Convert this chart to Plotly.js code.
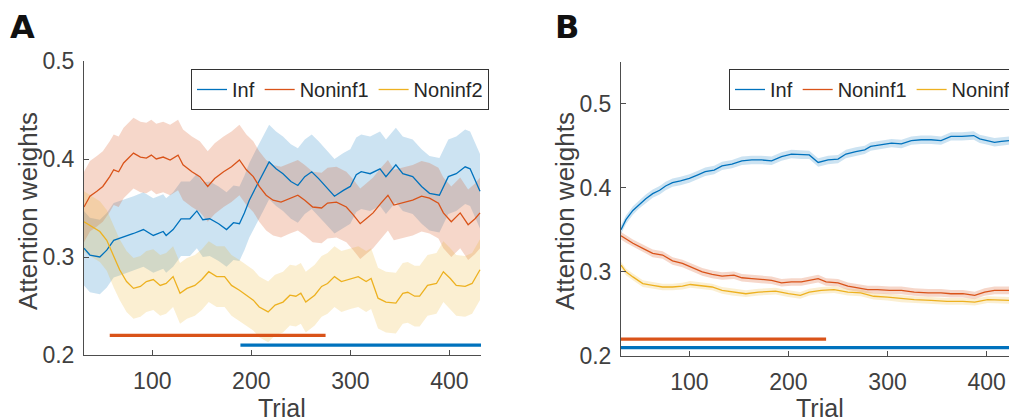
<!DOCTYPE html>
<html>
<head>
<meta charset="utf-8">
<script src="https://cdn.plot.ly/plotly-3.0.1.min.js"></script>
<style>html,body{margin:0;padding:0;background:#fff;}#chart{width:1009px;height:417px;}</style>
</head>
<body>
<div id="chart"></div>
<script>
// ---------- Panel A data (trial, attention weight) ----------
const aInfTrials = [31,37,47,54,61,67,81,91,101,111,114,121,129,138,145,151,158,167,175,182,188,193,198,205,212,218,225,232,240,247,254,261,268,274,284,293,300,306,311,320,330,336,346,353,363,372,380,390,399,407,416,421,426,431];
const aInfValues = [0.309,0.302,0.300,0.307,0.317,0.319,0.324,0.328,0.322,0.326,0.322,0.328,0.339,0.339,0.347,0.338,0.339,0.334,0.328,0.335,0.334,0.345,0.358,0.372,0.385,0.397,0.390,0.385,0.377,0.373,0.382,0.387,0.380,0.373,0.362,0.368,0.372,0.384,0.387,0.385,0.390,0.382,0.394,0.385,0.382,0.372,0.365,0.363,0.382,0.385,0.392,0.390,0.379,0.367];

const aN1Trials = [31,37,44,50,57,61,66,71,76,81,88,94,99,104,111,118,126,131,140,148,156,163,172,180,188,195,202,208,215,222,230,239,247,254,262,271,277,286,296,303,310,316,323,331,338,344,353,363,372,380,389,394,402,411,419,426,431];
const aN1Values = [0.351,0.362,0.367,0.372,0.382,0.389,0.387,0.396,0.401,0.406,0.402,0.401,0.404,0.400,0.402,0.399,0.404,0.394,0.387,0.382,0.372,0.380,0.387,0.392,0.399,0.389,0.382,0.372,0.363,0.358,0.356,0.360,0.363,0.358,0.351,0.350,0.355,0.356,0.351,0.343,0.334,0.339,0.345,0.355,0.363,0.353,0.355,0.358,0.362,0.360,0.355,0.345,0.336,0.345,0.333,0.339,0.345];

const aN2Trials = [31,39,47,54,61,67,74,81,88,94,101,108,114,121,128,135,143,150,157,165,173,180,188,195,202,208,217,224,232,239,245,250,255,264,271,277,284,291,300,308,316,321,328,336,346,353,358,365,370,378,387,394,401,407,416,423,431];
const aN2Values = [0.336,0.331,0.326,0.317,0.300,0.287,0.275,0.268,0.270,0.275,0.277,0.271,0.273,0.280,0.263,0.268,0.271,0.277,0.285,0.280,0.280,0.271,0.266,0.261,0.256,0.249,0.244,0.251,0.254,0.261,0.260,0.263,0.254,0.261,0.270,0.273,0.280,0.275,0.278,0.280,0.275,0.278,0.258,0.254,0.253,0.263,0.264,0.260,0.260,0.271,0.273,0.285,0.278,0.271,0.270,0.273,0.287];

// band half-widths (SEM) read from the shaded areas, panel A
const aSemInf = 0.038, aSemN1 = 0.036, aSemN2 = 0.031;

// significance bars, panel A: [start trial, end trial, level]
const aBarN1 = [57, 275, 0.22];
const aBarInf = [189, 432, 0.21];

// ---------- Panel B data ----------
const bInfTrials = [31,36,43,49,56,63,70,76,83,91,100,108,116,125,133,143,153,163,173,183,193,203,213,221,230,240,250,258,268,277,283,293,304,314,324,334,344,354,364,375,387,393,401,408,415,423];
const bInfValues = [0.350,0.362,0.373,0.380,0.387,0.393,0.397,0.402,0.406,0.408,0.411,0.415,0.419,0.421,0.426,0.428,0.432,0.433,0.433,0.432,0.437,0.440,0.439,0.439,0.430,0.433,0.434,0.440,0.443,0.445,0.449,0.451,0.453,0.452,0.456,0.457,0.457,0.456,0.461,0.461,0.462,0.458,0.456,0.454,0.455,0.456];

const bN1Trials = [31,36,43,53,63,73,83,93,103,113,123,133,145,153,163,173,183,193,203,213,221,230,238,250,260,270,280,290,302,314,327,341,354,364,376,388,398,408,423];
const bN1Values = [0.343,0.339,0.334,0.328,0.322,0.320,0.313,0.310,0.305,0.300,0.297,0.295,0.296,0.293,0.292,0.291,0.290,0.287,0.288,0.288,0.290,0.292,0.288,0.287,0.283,0.281,0.279,0.279,0.278,0.278,0.276,0.275,0.275,0.274,0.274,0.272,0.276,0.278,0.278];

const bN2Trials = [31,36,43,53,63,73,83,93,101,113,123,133,143,157,170,187,200,212,221,233,246,260,273,286,300,314,327,344,360,376,388,401,423];
const bN2Values = [0.308,0.300,0.294,0.286,0.284,0.282,0.282,0.283,0.285,0.283,0.282,0.278,0.276,0.274,0.276,0.277,0.274,0.272,0.276,0.278,0.279,0.276,0.275,0.271,0.270,0.268,0.267,0.266,0.265,0.265,0.264,0.267,0.266];

const bSemInf = 0.005, bSemN1 = 0.0045, bSemN2 = 0.004;

const bBarN1 = [30, 238, 0.22];
const bBarInf = [30, 432, 0.21];

const seriesNames = ['Inf', 'Noninf1', 'Noninf2'];
const xTicks = [100, 200, 300, 400];
const panelLabels = ['A', 'B'];
const xTitle = 'Trial';
const yTitle = 'Attention weights';

// ---------- styling ----------
const colors = ['#0072BD', '#D95319', '#EDB120'];
const fills = ['rgba(0,114,189,0.2)', 'rgba(217,83,25,0.23)', 'rgba(237,177,32,0.2)'];
const FONT = 'Liberation Sans, Arial, Helvetica, sans-serif';

function band(xs, ys, sem, fill, xa, ya) {
  const upper = ys.map(v => v + sem);
  const lower = ys.map(v => v - sem);
  return {
    x: xs.concat(xs.slice().reverse()),
    y: upper.concat(lower.reverse()),
    xaxis: xa, yaxis: ya,
    type: 'scatter', mode: 'lines', fill: 'toself', fillcolor: fill,
    line: {width: 0, color: 'rgba(0,0,0,0)'}, hoverinfo: 'skip', showlegend: false
  };
}
function line(xs, ys, i, xa, ya, legendId) {
  return {
    x: xs, y: ys, xaxis: xa, yaxis: ya, type: 'scatter', mode: 'lines',
    name: seriesNames[i], line: {color: colors[i], width: 1.3},
    legend: legendId, showlegend: true
  };
}
function bar(b, color, xa, ya) {
  return {
    x: [b[0], b[1]], y: [b[2], b[2]], xaxis: xa, yaxis: ya, type: 'scatter', mode: 'lines',
    line: {color: color, width: 3.2}, showlegend: false, hoverinfo: 'skip', cliponaxis: false
  };
}

const traces = [
  band(aInfTrials, aInfValues, aSemInf, fills[0], 'x', 'y'),
  band(aN1Trials, aN1Values, aSemN1, fills[1], 'x', 'y'),
  band(aN2Trials, aN2Values, aSemN2, fills[2], 'x', 'y'),
  line(aInfTrials, aInfValues, 0, 'x', 'y', 'legend'),
  line(aN1Trials, aN1Values, 1, 'x', 'y', 'legend'),
  line(aN2Trials, aN2Values, 2, 'x', 'y', 'legend'),
  bar(aBarN1, colors[1], 'x', 'y'),
  bar(aBarInf, colors[0], 'x', 'y'),

  band(bInfTrials, bInfValues, bSemInf, fills[0], 'x2', 'y2'),
  band(bN1Trials, bN1Values, bSemN1, fills[1], 'x2', 'y2'),
  band(bN2Trials, bN2Values, bSemN2, fills[2], 'x2', 'y2'),
  line(bInfTrials, bInfValues, 0, 'x2', 'y2', 'legend2'),
  line(bN1Trials, bN1Values, 1, 'x2', 'y2', 'legend2'),
  line(bN2Trials, bN2Values, 2, 'x2', 'y2', 'legend2'),
  bar(bBarN1, colors[1], 'x2', 'y2'),
  bar(bBarInf, colors[0], 'x2', 'y2')
];

const W = 1009, H = 417;
const px = v => v / W;
const py = v => (H - v) / H;

function xAxis(domain, range) {
  return {
    domain: domain, range: range, showline: true, linecolor: '#4d4d4d', linewidth: 1,
    ticks: 'inside', ticklen: 5, tickcolor: '#4d4d4d', tickwidth: 1,
    tickvals: xTicks, showgrid: false, zeroline: false,
    tickfont: {family: FONT, size: 23, color: '#404040'}, ticklabelstandoff: 5,
    automargin: false, fixedrange: true
  };
}
function yAxis(domain, range, anchor) {
  return {
    domain: domain, range: range, anchor: anchor, showline: true, linecolor: '#4d4d4d', linewidth: 1,
    ticks: 'inside', ticklen: 5, tickcolor: '#4d4d4d', tickwidth: 1,
    dtick: 0.1, tick0: 0.2, tickformat: '.1f', showgrid: false, zeroline: false,
    tickfont: {family: FONT, size: 23, color: '#404040'}, ticklabelstandoff: 4,
    automargin: false, fixedrange: true
  };
}
function legendAt(x) {
  return {
    x: x, y: py(69), xanchor: 'left', yanchor: 'top', orientation: 'h',
    bgcolor: '#ffffff', bordercolor: '#333333', borderwidth: 1,
    font: {family: FONT, size: 20, color: '#262626'}, itemwidth: 30, traceorder: 'normal'
  };
}
function yTitleAnn(xPix) {
  return {text: yTitle, xref: 'paper', yref: 'paper', x: px(xPix), y: py(211), xanchor: 'center', yanchor: 'middle',
    textangle: -90, showarrow: false, font: {family: FONT, size: 26, color: '#404040'}};
}
function xTitleAnn(xPix) {
  return {text: xTitle, xref: 'paper', yref: 'paper', x: px(xPix), y: py(408), xanchor: 'center', yanchor: 'middle',
    showarrow: false, font: {family: FONT, size: 25, color: '#404040'}};
}
function labelAnn(t, xPix) {
  return {text: '<b>' + t + '</b>', xref: 'paper', yref: 'paper', x: px(xPix), y: py(27), xanchor: 'left', yanchor: 'middle',
    showarrow: false, font: {family: 'DejaVu Sans, sans-serif', size: 32, color: '#111111'}};
}

const layout = {
  width: W, height: H,
  margin: {l: 0, r: 0, t: 0, b: 0, autoexpand: false},
  paper_bgcolor: '#ffffff', plot_bgcolor: '#ffffff',
  xaxis: Object.assign(xAxis([px(84), px(481)], [31, 432]), {anchor: 'y'}),
  yaxis: yAxis([py(355), py(61)], [0.2, 0.5], 'x'),
  xaxis2: Object.assign(xAxis([px(621), 1], [31, 422.6]), {anchor: 'y2'}),
  yaxis2: yAxis([py(356), py(61.5)], [0.2, 0.55], 'x2'),
  legend: legendAt(px(191)),
  legend2: legendAt(px(729)),
  showlegend: true,
  annotations: [
    labelAnn(panelLabels[0], 8),
    labelAnn(panelLabels[1], 553),
    yTitleAnn(28),
    yTitleAnn(565),
    xTitleAnn(282),
    xTitleAnn(820)
  ]
};

Plotly.newPlot('chart', traces, layout, {displayModeBar: false, staticPlot: true});
</script>
</body>
</html>
